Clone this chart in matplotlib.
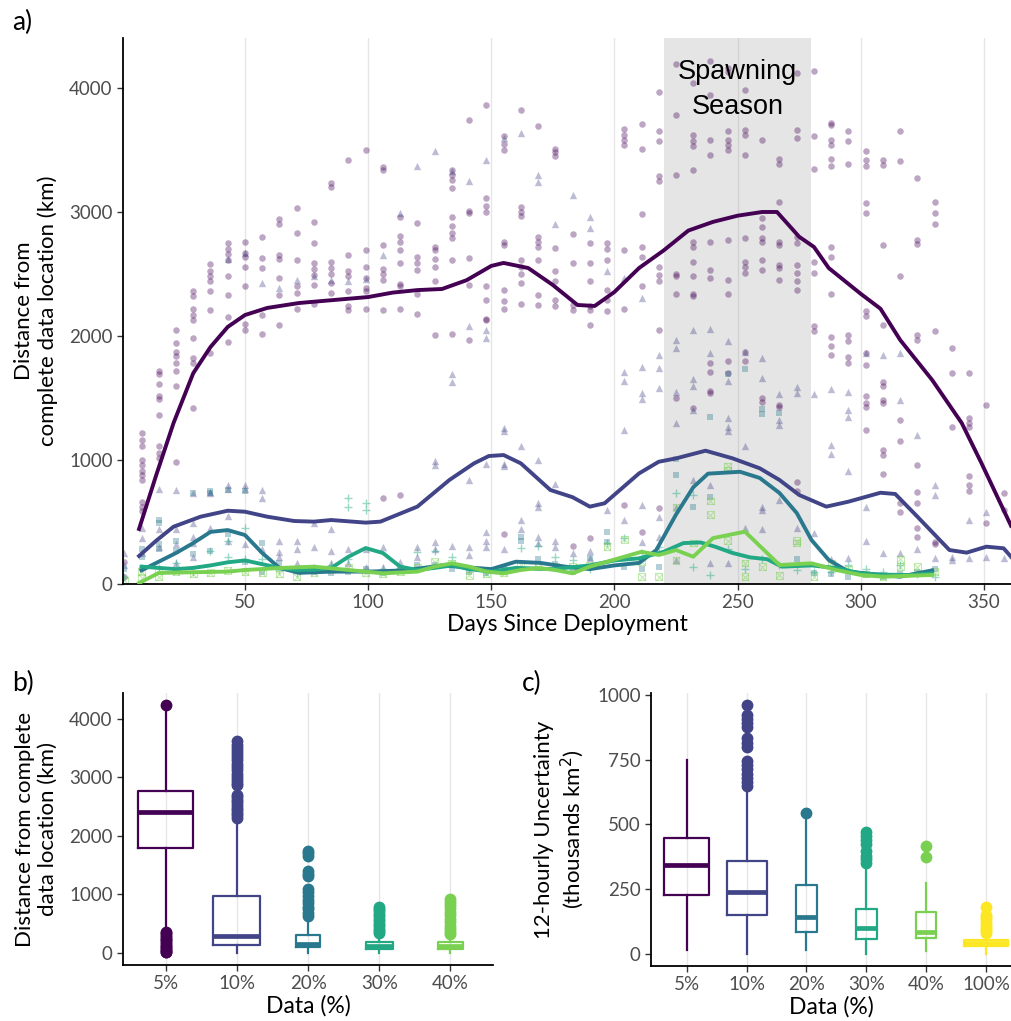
import matplotlib
matplotlib.use('Agg')
import matplotlib.pyplot as plt
import numpy as np

plt.rcParams['font.family'] = ['Lato', 'DejaVu Sans']

# colours (viridis, 6 levels)
cols = ['#440154', '#414487', '#2A788E', '#22A884', '#7AD151', '#FDE725']

# ---- panel a: raw distances per sampling day (5% circles, 10% triangles, ...)
pts_5 = {1: [60, 180], 8: [1220, 1160, 1110, 1000, 960, 910, 880, 840, 660, 620, 590],
         15: [1720, 1690, 1610, 1520, 1490, 1360, 1110, 1060, 1020],
         22: [2050, 1940, 1870, 1840, 1780, 1720, 1600, 980],
         29: [2360, 2320, 2220, 2170, 2130, 1980, 1820, 1780, 1420],
         36: [2580, 2520, 2480, 2440, 2360, 2210, 1860],
         43: [2750, 2700, 2660, 2610, 2480, 2330, 2150, 1950],
         50: [2760, 2670, 2640, 2560, 2400, 2100, 2050],
         57: [2800, 2630, 2550, 2170, 2020],
         64: [2940, 2900, 2650, 2620, 2470, 2330, 2090],
         71: [3030, 2830, 2610, 2400, 2350, 2220],
         78: [2920, 2750, 2590, 2540, 2490, 2410, 2260],
         85: [3230, 3200, 2600, 2550, 2500, 2430, 2350],
         92: [3420, 2650, 2520, 2480, 2360, 2240, 2210],
         99: [3500, 2690, 2560, 2470, 2390, 2360, 2220],
         106: [3360, 3340, 2730, 2540, 2500, 2450, 2210, 690],
         113: [2960, 2810, 2760, 2690, 2590, 2420, 2400, 2220, 720],
         120: [2910, 2640, 2590, 2530, 2340, 2180],
         127: [2720, 2690, 2620, 2560, 2440, 2010],
         134: [3340, 3300, 3260, 3190, 2960, 2890, 2830, 2790, 2610, 2020],
         141: [3740, 3010, 2990, 2630, 2410, 1970],
         148: [3860, 3110, 3050, 3000, 2400, 2290, 2140, 2130],
         155: [3610, 3550, 3500, 2760, 2730, 2370, 2280, 2220, 400],
         162: [3820, 3040, 3000, 2970, 2610, 2560, 2500, 2430, 2260],
         169: [3690, 2800, 2760, 2720, 2610, 2330, 2250],
         176: [3510, 3480, 3450, 2710, 2520, 2440, 2290, 2240],
         183: [2820, 2590, 2250, 2210, 310],
         190: [2750, 2590, 2440, 2240, 2210, 2090, 370],
         197: [2750, 2700, 2610, 2370, 2290, 2200],
         204: [3670, 3620, 3580, 3540, 2690, 2220, 640],
         211: [3710, 3510, 2980, 2720, 2640, 2400, 420],
         218: [3970, 3650, 3570, 3290, 3250, 2560, 2490, 2440, 2050, 610],
         225: [4190, 3780, 3300, 2500, 2480, 2340, 1500],
         232: [4040, 3620, 3570, 3530, 3340, 2760, 2720, 2600, 2480, 2340, 2320, 1420],
         239: [4220, 3940, 3580, 3460, 2760, 2530, 2470, 1780, 1710, 1560, 1540],
         246: [4160, 4130, 3650, 3580, 3540, 3500, 2770, 2450, 2340, 1800, 1700],
         253: [3980, 3660, 3620, 3460, 2790, 2600, 2560, 2510, 1870, 1800],
         260: [3580, 2950, 2880, 2790, 2760, 2610, 2530, 1500, 1470],
         267: [3430, 3390, 3080, 2760, 2730, 2570, 2550, 2450, 1440, 1430],
         274: [4120, 3660, 3600, 2800, 2750, 2570, 2510, 2440, 2370, 820, 750],
         281: [4140, 3610, 3350, 2600, 2510, 2080, 2040],
         288: [3720, 3700, 3580, 3540, 3430, 3370, 2720, 2640, 2340, 1990, 1920, 1850],
         295: [3650, 3570, 3390, 2010, 1960, 1830, 1780],
         302: [3490, 3420, 3370, 3070, 2990, 2200, 2160, 1860, 1770, 1520, 1460, 1430, 1240],
         309: [3420, 3380, 2730, 2090, 1630, 1600, 1480, 1460, 1080, 1040, 890],
         316: [3650, 3410, 2480, 1320, 1150, 650, 580],
         323: [3270, 2770, 2740, 2010, 1970, 960, 740, 650, 450, 380],
         330: [3080, 2990, 2900, 2040, 340, 320],
         337: [1900, 1700, 1270], 344: [1700, 1340, 1300, 1270, 870, 800, 750],
         351: [1440, 490], 358: [730, 600]}

pts_10 = {1: [250, 150], 8: [450, 370, 250], 15: [770, 440, 300], 22: [760, 440, 320, 167],
          29: [730, 490, 380, 330, 220], 36: [740, 730, 450], 43: [2620, 800, 770, 550, 350],
          50: [2670, 800, 770, 320], 57: [2430, 760, 690, 280], 64: [2385, 350, 260, 220],
          71: [2450, 350, 280, 170], 78: [2480, 490, 300, 140], 85: [2450, 440, 270, 170],
          92: [2440, 280, 170], 99: [2460, 280, 140], 106: [2650, 300, 140], 113: [2990, 180],
          120: [3370, 300, 220], 127: [3490, 990, 960, 340, 280], 134: [3330, 1690, 1630, 310],
          141: [3250, 2080, 840, 300, 230], 148: [3420, 2050, 1980, 970, 420, 350, 300],
          155: [3600, 1260, 1230, 970, 950, 280], 162: [3640, 1110, 520, 440],
          169: [3300, 3240, 1000, 650, 620, 380, 330], 176: [2900, 810, 350, 300],
          183: [3140, 250], 190: [2960, 2870, 270, 210], 197: [2520, 600],
          204: [2470, 1710, 1640, 1240, 520], 211: [2310, 1750, 1540, 1490, 640, 340],
          218: [1850, 1740, 1580, 540, 380], 225: [1970, 1900, 1550, 1300, 620, 190],
          232: [2050, 1650, 1600, 1400, 840], 239: [2060, 1860, 800, 170],
          246: [1960, 1640, 1340, 1270, 1230, 170], 253: [1870, 1110, 450],
          260: [1820, 1660, 620, 600, 440], 267: [1530, 1320, 1280, 680], 274: [1590, 1540, 450],
          281: [1530, 410], 288: [1570, 1120, 1050, 200], 295: [1550, 1400, 1350, 910, 210],
          302: [1860, 620, 350], 309: [1850, 250], 316: [1860, 1480, 250], 323: [1200, 280],
          330: [800, 720, 210], 337: [220, 190], 344: [520, 210], 351: [580, 220], 358: [210]}

pts_20 = {1: [120], 8: [280, 220], 15: [520, 490, 320, 280], 22: [350, 270], 29: [730, 240],
          36: [750, 730, 270], 43: [760, 400], 50: [750, 180], 57: [330, 100], 64: [170],
          71: [120], 78: [100], 85: [90], 92: [100], 99: [120], 106: [90], 113: [110],
          120: [150], 127: [150], 134: [120], 141: [100], 148: [90], 155: [120], 162: [380, 350],
          169: [200], 176: [160], 183: [100], 190: [210], 197: [420, 340], 204: [140],
          211: [120], 218: [140], 225: [1010, 880], 232: [620], 239: [1350, 700], 246: [1690],
          253: [1730], 260: [1410, 1370], 267: [1380], 274: [200], 281: [90], 288: [80],
          295: [60], 302: [70], 309: [60], 316: [80], 323: [100], 330: [120]}

pts_30 = {1: [60], 8: [130], 15: [130], 22: [170], 29: [100], 36: [270], 43: [350, 220],
          50: [450, 200], 57: [200], 64: [110], 71: [90], 78: [120], 85: [150],
          92: [690, 620, 200], 99: [650, 600], 106: [120], 113: [130], 120: [260], 127: [270],
          134: [220], 141: [120], 148: [100], 155: [140], 162: [290], 169: [310], 176: [220],
          183: [190], 190: [120], 197: [330], 204: [370], 211: [250], 218: [300], 225: [730],
          232: [720, 140], 239: [73], 246: [280], 253: [120], 260: [200], 267: [150],
          274: [110], 281: [100], 288: [100], 295: [150], 302: [120], 309: [100], 316: [150],
          323: [80], 330: [60]}

pts_40 = {1: [30], 8: [100, 50], 15: [110, 60], 22: [100], 29: [80], 36: [90], 43: [110],
          50: [100], 57: [90], 64: [80], 71: [60], 78: [90], 85: [120], 92: [130], 99: [90],
          106: [80], 113: [100], 120: [130], 127: [180], 134: [170], 141: [70], 148: [80],
          155: [90], 162: [150], 169: [140], 176: [140], 183: [140], 190: [150], 197: [300],
          204: [360], 211: [180, 60], 218: [60], 225: [620, 190], 232: [330], 239: [670, 560],
          246: [950, 920, 350], 253: [170, 60], 260: [140], 267: [70], 274: [350, 330],
          281: [60], 288: [170], 295: [120], 302: [80], 309: [60], 316: [200, 140],
          323: [140], 330: [100]}

# ---- panel a: smoothed trends
sm5_x = [7, 14, 21, 29, 36, 43, 50, 59, 72, 86, 100, 110, 120, 130, 140, 150, 155, 165, 175,
         185, 192, 200, 210, 220, 230, 240, 250, 260, 266, 275, 281, 287, 300, 308, 316, 329,
         341, 349, 361]
sm5_y = [444, 880, 1298, 1700, 1911, 2073, 2169, 2226, 2266, 2290, 2314, 2350, 2370, 2379,
         2450, 2565, 2589, 2548, 2411, 2250, 2242, 2355, 2548, 2690, 2850, 2920, 2970, 3000,
         3000, 2800, 2718, 2548, 2340, 2220, 1968, 1645, 1298, 975, 470]
sm10_x = [7, 14, 21, 32, 43, 50, 59, 70, 78, 85, 99, 105, 120, 133, 143, 149, 155, 162, 174,
          183, 190, 196, 210, 218, 225, 237, 248, 259, 267, 275, 286, 295, 308, 314, 323, 336,
          343, 351, 358, 361]
sm10_y = [226, 350, 462, 543, 591, 583, 543, 508, 503, 516, 495, 503, 624, 839, 973, 1032,
          1040, 973, 758, 700, 624, 651, 892, 986, 1013, 1075, 1013, 933, 839, 718, 624, 664,
          736, 726, 543, 274, 253, 301, 288, 220]
sm20_x = [8, 15, 22, 29, 36, 43, 50, 57, 64, 72, 85, 100, 115, 130, 150, 160, 170, 180, 190,
          200, 210, 217, 225, 232, 238, 251, 259, 267, 274, 280, 287, 295, 308, 316, 329]
sm20_y = [110, 180, 250, 330, 420, 435, 395, 250, 130, 90, 100, 100, 110, 150, 120, 180, 170,
          140, 120, 150, 170, 274, 560, 780, 890, 905, 855, 734, 573, 355, 194, 100, 73, 59, 110]
sm30_x = [8, 15, 22, 29, 36, 43, 50, 57, 64, 71, 78, 85, 92, 99, 106, 113, 120, 127, 134, 141,
          150, 160, 175, 190, 200, 210, 220, 228, 235, 241, 248, 255, 262, 268, 280, 290, 300,
          310, 320, 329]
sm30_y = [140, 130, 120, 130, 150, 175, 190, 160, 130, 113, 115, 129, 220, 290, 250, 140, 113,
          130, 150, 120, 100, 130, 120, 150, 190, 207, 260, 330, 335, 300, 250, 215, 200, 140,
          150, 129, 86, 75, 73, 86]
sm40_x = [7, 15, 29, 43, 50, 64, 78, 92, 106, 120, 127, 134, 141, 148, 155, 162, 169, 176, 183,
          190, 197, 204, 211, 218, 225, 232, 240, 253, 260, 267, 280, 290, 300, 309, 329]
sm40_y = [8, 89, 95, 100, 113, 129, 140, 113, 86, 100, 140, 167, 140, 100, 86, 113, 129, 113,
          86, 140, 180, 220, 260, 234, 274, 220, 370, 422, 288, 153, 167, 113, 73, 59, 73]

# ---- panel b: distance boxplots (varwidth)
b_labels = ['5%', '10%', '20%', '30%', '40%']
b_q1 = [1790, 125, 95, 65, 70]
b_med = [2415, 290, 150, 120, 120]
b_q3 = [2760, 962, 310, 185, 180]
b_lo = [370, 0, 0, 0, 0]
b_hi = [4200, 2190, 580, 300, 290]
b_width = [0.77, 0.66, 0.33, 0.38, 0.35]
b_out = [[4240, 5, 20, 45, 70, 95, 120, 150, 185, 215, 240, 270, 300, 330, 355],
         [2310, 2350, 2390, 2440, 2480, 2530, 2570, 2620, 2660, 2700, 2860, 2900, 2950, 3010,
          3060, 3120, 3170, 3230, 3290, 3340, 3400, 3450, 3500, 3560, 3620],
         [620, 680, 740, 790, 850, 910, 970, 1030, 1090, 1310, 1350, 1390, 1650, 1700, 1740],
         [330, 370, 410, 450, 490, 540, 580, 630, 670, 710, 750, 780],
         [320, 360, 410, 460, 520, 580, 640, 700, 760, 820, 870, 920]]

# ---- panel c: 12-hourly uncertainty boxplots
c_labels = ['5%', '10%', '20%', '30%', '40%', '100%']
c_q1 = [227, 151, 85, 57, 60, 30]
c_med = [341, 238, 141, 100, 83, 40]
c_q3 = [447, 357, 267, 173, 160, 52]
c_lo = [12, 0, 15, 0, 10, 0]
c_hi = [748, 632, 520, 322, 271, 70]
c_width = [0.75, 0.67, 0.35, 0.36, 0.34, 0.74]
c_out = [[],
         [650, 665, 680, 695, 712, 728, 745, 800, 815, 832, 875, 890, 908, 922, 960],
         [543],
         [352, 365, 378, 395, 425, 440, 455, 470],
         [375, 415],
         [78, 86, 95, 104, 112, 121, 133, 142, 151, 180]]


def flat(d):
    xs, ys = [], []
    for k, v in d.items():
        xs += [k] * len(v)
        ys += v
    return np.array(xs), np.array(ys)


def style(ax):
    for s in ['top', 'right']:
        ax.spines[s].set_visible(False)
    for s in ['left', 'bottom']:
        ax.spines[s].set_linewidth(1.3)
        ax.spines[s].set_color('black')
    ax.tick_params(length=4, width=1, color='#333333', labelcolor='#4D4D4D', labelsize=13.5)
    ax.grid(axis='x', color='#E6E6E6', lw=1)
    ax.set_axisbelow(True)


fig = plt.figure(figsize=(10.11, 10.21), dpi=100)

# ================= a)
ax = fig.add_axes([0.1217, 0.428, 0.8783, 0.5348])
style(ax)
ax.axvspan(220, 280, color='#808080', alpha=0.2, lw=0, zorder=1)
a_kw = dict(alpha=0.35, zorder=2, linewidths=0)
x, y = flat(pts_5)
ax.scatter(x, y, s=22, marker='o', color=cols[0], **a_kw)
x, y = flat(pts_10)
ax.scatter(x, y, s=28, marker='^', color=cols[1], **a_kw)
x, y = flat(pts_20)
ax.scatter(x, y, s=22, marker='s', color=cols[2], **a_kw)
x, y = flat(pts_30)
ax.scatter(x, y, s=40, marker='+', color=cols[3], alpha=0.45, zorder=2, linewidths=1)
x, y = flat(pts_40)
ax.scatter(x, y, s=24, marker='s', facecolors='none', edgecolors=cols[4], alpha=0.45,
           zorder=2, linewidths=0.8)
ax.scatter(x, y, s=24, marker='x', color=cols[4], alpha=0.45, zorder=2, linewidths=0.8)

lw = 2.8
ax.plot(sm5_x, sm5_y, color=cols[0], lw=lw, zorder=5)
ax.plot(sm10_x, sm10_y, color=cols[1], lw=lw, zorder=5)
ax.plot(sm20_x, sm20_y, color=cols[2], lw=lw, zorder=5)
ax.plot(sm30_x, sm30_y, color=cols[3], lw=lw, zorder=5)
ax.plot(sm40_x, sm40_y, color=cols[4], lw=lw, zorder=5)

ax.text(250, 3985, 'Spawning\nSeason', ha='center', va='center', fontsize=19.5,
        family=['Liberation Sans'], linespacing=1.45, zorder=6)
ax.set_xlim(0.5, 361)
ax.set_ylim(0, 4403)
ax.set_xticks([50, 100, 150, 200, 250, 300, 350])
ax.set_yticks([0, 1000, 2000, 3000, 4000])
ax.set_xlabel('Days Since Deployment', fontsize=16.5, labelpad=2)
ax.set_ylabel('Distance from\ncomplete data location (km)', fontsize=16, labelpad=8)
fig.text(0.012, 0.978, 'a)', fontsize=19, va='center')


def boxes(ax, q1, med, q3, lo, hi, out, widths, n):
    stats = []
    for i in range(n):
        stats.append(dict(q1=q1[i], med=med[i], q3=q3[i], whislo=lo[i], whishi=hi[i],
                          fliers=out[i]))
    pos = list(range(1, n + 1))
    for i in range(n):
        c = cols[i]
        ax.bxp([stats[i]], positions=[pos[i]], widths=widths[i], showcaps=False,
               boxprops=dict(color=c, lw=1.6),
               whiskerprops=dict(color=c, lw=1.6),
               medianprops=dict(color=c, lw=3.4, solid_capstyle='butt'),
               flierprops=dict(marker='o', markerfacecolor=c, markeredgecolor=c,
                               markersize=7.5, alpha=1.0),
               manage_ticks=False)


# ================= b)
axb = fig.add_axes([0.1217, 0.0548, 0.366, 0.2664])
style(axb)
boxes(axb, b_q1, b_med, b_q3, b_lo, b_hi, b_out, b_width, 5)
axb.set_xlim(0.4, 5.6)
axb.set_ylim(-211, 4441)
axb.set_xticks(range(1, 6))
axb.set_xticklabels(b_labels)
axb.set_yticks([0, 1000, 2000, 3000, 4000])
axb.set_xlabel('Data (%)', fontsize=16.5, labelpad=2)
axb.set_ylabel('Distance from complete\ndata location (km)', fontsize=16, labelpad=8)
fig.text(0.012, 0.331, 'b)', fontsize=19, va='center')

# ================= c)
axc = fig.add_axes([0.6439, 0.0539, 0.3561, 0.2674])
style(axc)
boxes(axc, c_q1, c_med, c_q3, c_lo, c_hi, c_out, c_width, 6)
axc.set_xlim(0.4, 6.42)
axc.set_ylim(-48, 1008)
axc.set_xticks(range(1, 7))
axc.set_xticklabels(c_labels)
axc.set_yticks([0, 250, 500, 750, 1000])
axc.set_xlabel('Data (%)', fontsize=16.5, labelpad=2)
axc.set_ylabel('12-hourly Uncertainty\n(thousands km$^2$)', fontsize=16, labelpad=8)
fig.text(0.516, 0.331, 'c)', fontsize=19, va='center')

fig.savefig('out.png', dpi=100)
